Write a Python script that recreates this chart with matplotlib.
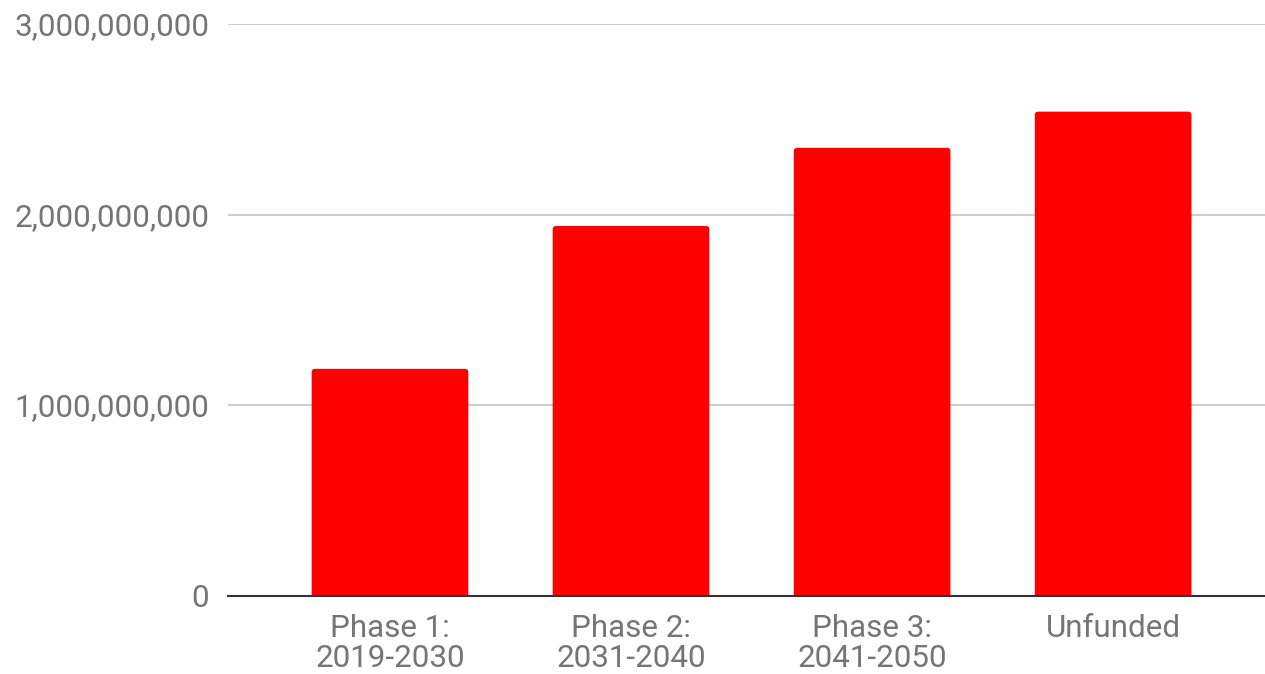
import matplotlib
matplotlib.use("Agg")
import matplotlib.pyplot as plt
from matplotlib.patches import FancyBboxPatch
from matplotlib.ticker import FuncFormatter

categories = ["Phase 1:\n2019-2030", "Phase 2:\n2031-2040", "Phase 3:\n2041-2050", "Unfunded"]
values = [1.19e9, 1.94e9, 2.35e9, 2.54e9]
yticks = [0, 1e9, 2e9, 3e9]

plt.rcParams['font.family'] = ['Roboto', 'DejaVu Sans']

W, H = 1265, 674
fig = plt.figure(figsize=(W / 100, H / 100), dpi=100)
left, right = 228 / W, 1265 / W
bottom, top = (H - 595.5) / H, (H - 24) / H
ax = fig.add_axes([left, bottom, right - left, top - bottom])

x = list(range(len(categories)))
bars = ax.bar(x, values, width=0.65, color="#ff0000")

ax.set_xlim(-0.672, 3.63)
ax.set_ylim(0, 3e9)

# round top corners
ax_w_px = (right - left) * W
ax_h_px = (top - bottom) * H
xpp = (3.63 + 0.672) / ax_w_px
ypp = 3e9 / ax_h_px
r_px = 3.5
for b in list(bars):
    x0, w, h = b.get_x(), b.get_width(), b.get_height()
    b.remove()
    p = FancyBboxPatch((x0 + r_px * xpp, -20 * ypp), w - 2 * r_px * xpp, h + 20 * ypp - r_px * ypp,
                       boxstyle=f"round,pad={r_px * xpp},rounding_size={r_px * xpp}",
                       mutation_aspect=ypp / xpp, facecolor="#ff0000", edgecolor="none",
                       zorder=2)
    ax.add_patch(p)

ax.set_yticks(yticks)
ax.yaxis.set_major_formatter(FuncFormatter(lambda v, p: f"{int(round(v)):,}"))
ax.set_xticks(x)
ax.set_xticklabels(categories, linespacing=1.05)

ax.grid(axis="y", color="#cccccc", linewidth=1.4, zorder=0)
ax.set_axisbelow(True)
for s in ["top", "right", "left"]:
    ax.spines[s].set_visible(False)
ax.spines["bottom"].set_color("#333333")
ax.spines["bottom"].set_linewidth(1.5)
ax.spines["bottom"].set_zorder(3)

ax.tick_params(axis="both", length=0, colors="#757575", labelsize=22.6)
ax.tick_params(axis="y", pad=13.5)
ax.tick_params(axis="x", pad=13.5)

fig.savefig("out.png", dpi=100, facecolor="white")
